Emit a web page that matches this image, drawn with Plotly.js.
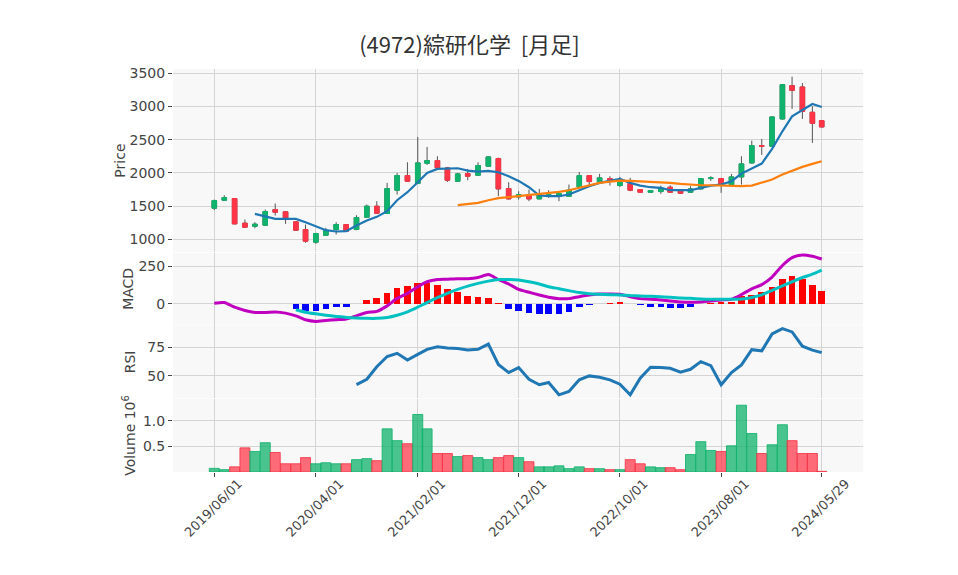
<!DOCTYPE html>
<html>
<head>
<meta charset="utf-8">
<script src="https://cdn.plot.ly/plotly-3.0.1.min.js"></script>
<style>html,body{margin:0;padding:0;background:#fff;}#chart{width:958px;height:575px;}</style>
</head>
<body>
<div id="chart"></div>
<script>
const dates = ["2019-06-01","2019-07-01","2019-08-01","2019-09-01","2019-10-01","2019-11-01","2019-12-01",
"2020-01-01","2020-02-01","2020-03-01","2020-04-01","2020-05-01","2020-06-01","2020-07-01","2020-08-01","2020-09-01","2020-10-01","2020-11-01","2020-12-01",
"2021-01-01","2021-02-01","2021-03-01","2021-04-01","2021-05-01","2021-06-01","2021-07-01","2021-08-01","2021-09-01","2021-10-01","2021-11-01","2021-12-01",
"2022-01-01","2022-02-01","2022-03-01","2022-04-01","2022-05-01","2022-06-01","2022-07-01","2022-08-01","2022-09-01","2022-10-01","2022-11-01","2022-12-01",
"2023-01-01","2023-02-01","2023-03-01","2023-04-01","2023-05-01","2023-06-01","2023-07-01","2023-08-01","2023-09-01","2023-10-01","2023-11-01","2023-12-01",
"2024-01-01","2024-02-01","2024-03-01","2024-04-01","2024-05-01","2024-05-29"];

const open  = [1470,1590,1615,1245,1200,1215,1450,1415,1265,1150,960,1065,1150,1225,1150,1335,1500,1390,1740,1960,1840,2145,2185,2075,1875,1990,1965,2100,2215,1765,1640,1675,1610,1650,1650,1650,1790,1960,1870,1915,1810,1840,1750,1710,1720,1785,1735,1710,1760,1915,1915,1825,1940,2150,2410,2400,2810,3310,3290,2910,2785];
const high  = [1600,1665,1620,1300,1260,1450,1540,1420,1270,1225,1100,1175,1260,1230,1365,1525,1575,1850,2000,2160,2540,2390,2250,2090,2000,2060,2160,2250,2230,1860,1725,1750,1760,1740,1700,1825,2015,1965,1985,1950,1940,1925,1755,1740,1810,1815,1740,1800,1920,1950,1925,1985,2250,2485,2510,2850,3330,3445,3350,3000,2790];
const low   = [1440,1585,1230,1180,1170,1210,1360,1235,1130,950,935,1060,1075,1120,1140,1330,1390,1390,1675,1870,1840,2120,2070,1865,1870,1890,1960,2095,1650,1600,1600,1575,1605,1625,1575,1645,1785,1810,1865,1810,1790,1725,1700,1705,1685,1700,1690,1705,1755,1880,1700,1820,1825,2140,2270,2390,2800,2960,2810,2450,2685];
const close = [1585,1630,1235,1185,1230,1420,1410,1300,1140,975,1090,1135,1225,1125,1330,1500,1395,1765,1960,1875,2150,2185,2075,1890,1985,1950,2110,2240,1760,1610,1675,1610,1690,1675,1690,1740,1960,1870,1925,1880,1890,1740,1710,1735,1775,1710,1695,1760,1915,1925,1835,1940,2135,2410,2400,2840,3325,3240,2925,2745,2690];

const maShort = [null,null,null,null,1385,1350,1310,1310,1310,1260,1200,1140,1120,1125,1210,1285,1340,1425,1590,1710,1860,2000,2060,2060,2070,2035,2020,2030,2010,1950,1880,1785,1660,1650,1650,1675,1740,1800,1850,1875,1910,1850,1810,1785,1775,1740,1735,1740,1775,1810,1825,1875,1990,2065,2140,2360,2625,2850,2950,3035,2990];
const maLong = [null,null,null,null,null,null,null,null,null,null,null,null,null,null,null,null,null,null,null,null,null,null,null,null,1515,1535,1550,1590,1620,1635,1650,1660,1675,1690,1715,1740,1780,1820,1850,1870,1885,1880,1875,1870,1865,1850,1835,1820,1815,1815,1810,1800,1800,1810,1850,1900,1975,2035,2090,2135,2175];

const macd = [4,9,-22,-44,-57,-57,-53,-61,-79,-105,-116,-110,-105,-101,-79,-57,-50,-13,37,70,114,147,162,164,167,167,175,195,162,132,96,77,59,44,35,35,48,59,66,66,64,48,35,31,26,20,13,11,13,20,26,31,62,100,128,178,255,307,325,316,298];
const signal = [null,null,null,null,null,null,null,null,-39,-55,-66,-75,-83,-90,-94,-96,-96,-90,-75,-53,-22,9,42,70,96,118,136,151,162,162,158,147,132,114,101,88,75,68,64,61,59,55,53,50,48,44,39,37,33,31,31,31,33,43,60,90,120,147,175,197,224];
const hist = [null,null,null,null,null,null,null,null,-33,-44,-44,-35,-22,-18,-3,26,39,75,105,121,138,138,125,99,79,53,46,39,7,-31,-50,-61,-68,-70,-70,-55,-22,-9,0,9,15,0,-4,-18,-18,-24,-24,-18,-2,4,11,15,50,59,79,112,164,184,162,125,86];

const rsi = [null,null,null,null,null,null,null,null,null,null,null,null,null,null,42.4,47,58,67,69.8,64,68.9,73.3,75.6,74.4,74.1,72.7,73.3,77.9,60,52.9,57.3,47.1,42.2,44.2,33.4,36.3,46.5,50,48.8,46.5,42.7,33.4,48,57.6,57.3,56.7,53.2,55.8,62.5,59,42.2,52.9,59.6,73,72,86.8,91.5,88.6,76.1,72.6,70.4];

const volume = [0.071,0.045,0.10,0.47,0.40,0.57,0.38,0.16,0.16,0.28,0.16,0.18,0.16,0.16,0.24,0.26,0.22,0.84,0.61,0.55,1.12,0.84,0.36,0.36,0.30,0.32,0.28,0.24,0.28,0.32,0.28,0.20,0.10,0.10,0.12,0.065,0.10,0.065,0.065,0.045,0.045,0.24,0.16,0.10,0.084,0.084,0.045,0.34,0.59,0.42,0.40,0.51,1.30,0.75,0.36,0.53,0.92,0.61,0.36,0.36,0.013];

const tickVals = ["2019-06-01","2020-04-01","2021-02-01","2021-12-01","2022-10-01","2023-08-01","2024-05-29"];
const tickText = ["2019/06/01","2020/04/01","2021/02/01","2021/12/01","2022/10/01","2023/08/01","2024/05/29"];

const UP = '#10b36c', DOWN = '#ff3547';
const bodyHigh = open.map((o,i)=>Math.max(o,close[i]));
const bodyLow  = open.map((o,i)=>Math.min(o,close[i]));
const volColor = close.map((c,i)=> c>=open[i] ? 'rgba(16,179,108,0.75)' : 'rgba(255,53,71,0.72)');
const volLine  = close.map((c,i)=> c>=open[i] ? 'rgba(16,179,108,0.85)' : 'rgba(245,53,71,0.85)');
const histColor = hist.map(v => (v!==null && v<0) ? '#0000ff' : '#ff0000');

const traces = [
  {type:'candlestick', x:dates, open:open, high:high, low:low, close:close, xaxis:'x', yaxis:'y',
   increasing:{line:{color:'#555', width:1}, fillcolor:UP}, decreasing:{line:{color:'#555', width:1}, fillcolor:DOWN},
   whiskerwidth:0, showlegend:false, hoverinfo:'skip'},
  {type:'candlestick', x:dates, open:open, high:bodyHigh, low:bodyLow, close:close, xaxis:'x', yaxis:'y',
   increasing:{line:{color:UP, width:1}, fillcolor:UP}, decreasing:{line:{color:DOWN, width:1}, fillcolor:DOWN},
   whiskerwidth:0, showlegend:false, hoverinfo:'skip'},
  {type:'scatter', mode:'lines', x:dates, y:maShort, xaxis:'x', yaxis:'y', line:{color:'#1f77b4', width:2.2}, showlegend:false},
  {type:'scatter', mode:'lines', x:dates, y:maLong, xaxis:'x', yaxis:'y', line:{color:'#ff7f0e', width:2.2}, showlegend:false},
  {type:'bar', x:dates, y:hist, xaxis:'x2', yaxis:'y2', marker:{color:histColor, line:{width:0}}, width:20*86400000, showlegend:false},
  {type:'scatter', mode:'lines', x:dates, y:macd, xaxis:'x2', yaxis:'y2', line:{color:'#bf00bf', width:3, shape:'spline', smoothing:0.6}, showlegend:false},
  {type:'scatter', mode:'lines', x:dates, y:signal, xaxis:'x2', yaxis:'y2', line:{color:'#00c0c0', width:3, shape:'spline', smoothing:0.6}, showlegend:false},
  {type:'scatter', mode:'lines', x:dates, y:rsi, xaxis:'x3', yaxis:'y3', line:{color:'#1f77b4', width:3}, showlegend:false},
  {type:'bar', x:dates, y:volume, xaxis:'x4', yaxis:'y4', marker:{color:volColor, line:{color:volLine, width:1}}, width:30*86400000, showlegend:false}
];

const FONT = '"DejaVu Sans", sans-serif';
const GRID = '#d4d4d4';
const xRange = ['2019-01-28','2024-09-30'];
function xax(anchor, showLabels){
  return {type:'date', range:xRange, anchor:anchor, matches: anchor==='y' ? undefined : 'x',
    tickmode:'array', tickvals:tickVals, ticktext:tickText, showticklabels:showLabels,
    tickangle:-45, ticks: showLabels ? 'outside' : '', ticklen:4, tickcolor:'#444',
    ticklabelshift: 24, ticklabelstandoff: -6,
    showgrid:true, gridcolor:GRID, gridwidth:1, zeroline:false, showline:false,
    rangeslider:{visible:false}, tickfont:{family:FONT, size:13, color:'#444'}};
}
function yax(dom, range, dtick, title, extra){
  return Object.assign({domain:dom, range:range, dtick:dtick, tick0:0, ticks:'outside', ticklen:4, tickcolor:'#444',
    showgrid:true, gridcolor:GRID, gridwidth:1, zeroline:false, showline:false,
    tickfont:{family:FONT, size:14, color:'#444'}, title:{text:title, font:{family:FONT, size:14, color:'#444'}}}, extra||{});
}

const layout = {
  width:958, height:575,
  margin:{l:173, r:95, t:69, b:103},
  paper_bgcolor:'#ffffff', plot_bgcolor:'#f8f8f8',
  font:{family:FONT, color:'#444'},
  title:{text:'(4972)綜研化学\u00a0\u00a0[月足]', x:0.49, xanchor:'center', y:0.922, yanchor:'middle',
         font:{family:'"Noto Sans CJK JP", sans-serif', size:22, color:'#333'}},
  showlegend:false, bargap:0, hovermode:false,
  xaxis: xax('y',false),
  xaxis2: xax('y2',false),
  xaxis3: xax('y3',false),
  xaxis4: xax('y4',true),
  yaxis: yax([0.5455,1], [810,3560], 500, 'Price'),
  yaxis2: yax([0.3655,0.5435], [-138,338], 250, 'MACD'),
  yaxis3: yax([0.1825,0.364], [30.2,94.4], 25, 'RSI'),
  yaxis4: yax([0,0.181], [0,1.42], 0.5, 'Volume 10<sup>6</sup>', {tickmode:'array', tickvals:[0.5,1.0], ticktext:['0.5','1.0'], dtick:undefined})
};

Plotly.newPlot('chart', traces, layout, {displayModeBar:false, staticPlot:true});
</script>
</body>
</html>
